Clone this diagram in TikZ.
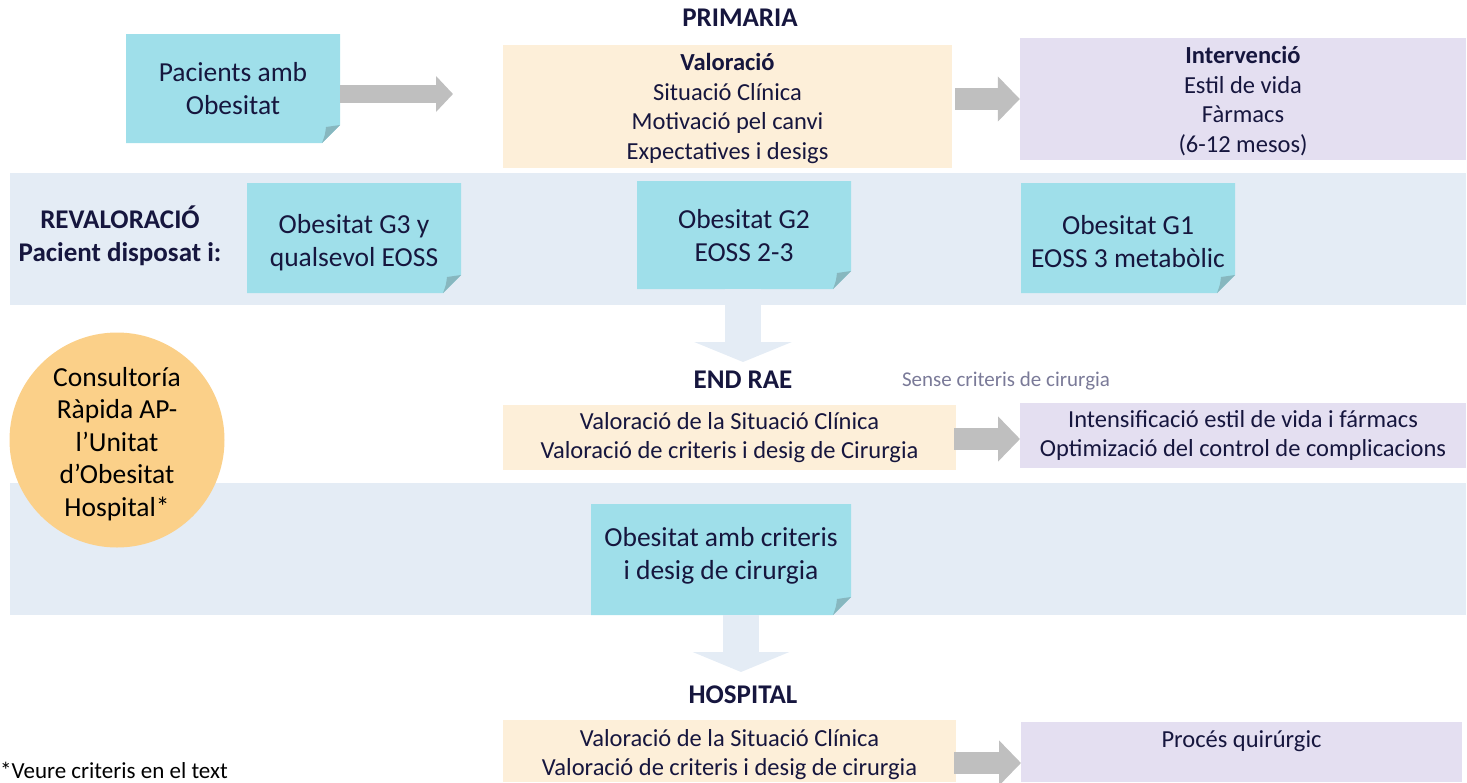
\documentclass[tikz,border=0pt]{standalone}
\usepackage{fontspec}
\setmainfont{Carlito}
\usetikzlibrary{arrows.meta,calc}
\definecolor{stickyc}{RGB}{159,223,234}
\definecolor{foldc}{RGB}{135,183,191}
\definecolor{peach}{RGB}{253,239,217}
\definecolor{lav}{RGB}{228,223,241}
\definecolor{bandc}{RGB}{228,236,245}
\definecolor{arrowgray}{RGB}{191,191,191}
\definecolor{circc}{RGB}{251,208,137}
\definecolor{navy}{RGB}{22,22,62}
\definecolor{softgray}{RGB}{122,122,152}
\tikzset{
  stickytext/.style={inner sep=0pt, align=center, text=navy, font=\fontsize{27.5}{33}\selectfont},
  boxtext/.style={inner sep=0pt, align=center, text=navy, font=\fontsize{24.5}{29.5}\selectfont},
  header/.style={inner sep=0pt, text=navy, font=\bfseries\fontsize{27}{33}\selectfont},
  grayarrow/.style={draw=arrowgray, line width=#1, -{Triangle[length=22pt,width=44pt]}},
  grayarrow/.default=22pt,
  downarrow/.style={draw=bandc, line width=36pt, -{Triangle[length=20pt,width=97pt]}},
}
% sticky note: [text shift], name, x1, y1, x2, y2, text
\newcommand\stickynote[7][0]{%
  \fill[stickyc] (#3,#4) -- (#5,#4) -- (#5,#6-18) -- (#5-18,#6) -- (#3,#6) -- cycle;
  \fill[foldc] (#5,#6-18) -- (#5-18,#6) .. controls (#5-15,#6-8) .. (#5-14,#6-16) -- cycle;
  \node[inner sep=0pt, minimum width={#5-#3}, minimum height={#6-#4}] (#2) at ({(#3+#5)/2},{(#4+#6)/2}) {};
  \node[stickytext] (#2txt) at ([yshift=-#1pt]#2.center) {#7};
}
\begin{document}
\begin{tikzpicture}[x=1pt,y=-1pt]
\useasboundingbox (0,0) rectangle (1467,782);
% bands
\fill[bandc] (10,173) rectangle (1466,305);
\fill[bandc] (10,483) rectangle (1466,615);
% headers
\node[header] (prim) at (740,18) {PRIMARIA};
\node[header, align=center] (reval) at (120,236) {REVALORACIÓ\\Pacient disposat i:};
% row 1
\stickynote{pac}{126}{34}{340}{143}{Pacients amb\\Obesitat}
\node[fill=peach, inner sep=0pt, minimum width=449pt, minimum height=123pt] (val) at (727.5,106.5) {};
\node[boxtext] (valtxt) at ([yshift=-2pt]val.center) {\textbf{Valoració}\\Situació Clínica\\Motivació pel canvi\\Expectatives i desigs};
\node[fill=lav, inner sep=0pt, minimum width=446pt, minimum height=122pt] (int) at (1243,99) {};
\node[boxtext] (inttxt) at ([yshift=-2pt]int.center) {\textbf{Intervenció}\\Estil de vida\\Fàrmacs\\(6-12 mesos)};
\coordinate (a1tip) at (453,94);
\draw[grayarrow=18pt, -{Triangle[length=17pt,width=35pt]}] (pac.east |- a1tip) -- (a1tip);
\draw[grayarrow] ([xshift=3pt]val.east |- int.west) -- (int.west);
% row 2 (revaloracio)
\stickynote[5]{g3}{247}{183}{461}{293}{Obesitat G3 y\\qualsevol EOSS}
\stickynote[1]{g2}{637}{181}{851}{289}{Obesitat G2\\EOSS 2-3}
\stickynote[4]{g1}{1021}{183}{1235}{293}{Obesitat G1\\EOSS 3 metabòlic}
\coordinate (tip1) at (743,362);
\draw[downarrow] (g2.south -| tip1) -- (tip1);
\node[header] (endrae) at (743,380) {END RAE};
% circle
\node[circle, fill=circc, minimum size=215pt, inner sep=0pt, text=black] (cons) at (117,440) {};
\node[inner sep=0pt, align=center, font=\fontsize{27.5}{32.5}\selectfont, text=black] (constxt) at ([yshift=-4pt]cons.center) {Consultoría\\Ràpida AP-\\l’Unitat\\d’Obesitat\\Hospital*};
% END RAE row
\node[inner sep=0pt, text=softgray, font=\fontsize{21}{24}\selectfont] (sense) at (1006,381) {Sense criteris de cirurgia};
\node[fill=peach, inner sep=0pt, minimum width=453pt, minimum height=65pt] (rae) at (729.5,437.5) {};
\node[boxtext] (raetxt) at (rae.center) {Valoració de la Situació Clínica\\Valoració de criteris i desig de Cirurgia};
\node[fill=lav, inner sep=0pt, minimum width=446pt, minimum height=65pt] (int2) at (1243,435.5) {};
\node[boxtext] (int2txt) at (int2.center) {Intensificació estil de vida i fármacs\\Optimizació del control de complicacions};
\coordinate (a3tip) at (1020,439);
\draw[grayarrow] ([xshift=-2pt]rae.east |- a3tip) -- (a3tip);
% criteria sticky
\stickynote[-4]{crit}{591}{504}{851}{615}{Obesitat amb criteris\\i desig de cirurgia}
\coordinate (tip2) at (741,672);
\draw[downarrow, line width=36pt, -{Triangle[length=20pt,width=96pt]}] (crit.south -| tip2) -- (tip2);
\node[header] (hosp) at (743,695) {HOSPITAL};
% hospital row
\node[fill=peach, inner sep=0pt, minimum width=453pt, minimum height=62pt] (hbox) at (729.5,751) {};
\node[boxtext] (hboxtxt) at (729.5,754.5) {Valoració de la Situació Clínica\\Valoració de criteris i desig de cirurgia};
\node[fill=lav, inner sep=0pt, minimum width=441pt, minimum height=60pt] (proc) at (1241.5,752) {};
\node[boxtext, anchor=north] (proctxt) at ([yshift=-9pt]proc.north) {Procés quirúrgic};
\coordinate (a4tip) at (1021,763);
\draw[grayarrow] ([xshift=-2pt]hbox.east |- a4tip) -- (a4tip);
% footnote
\node[inner sep=0pt, anchor=west, text=black, font=\fontsize{23}{26}\selectfont] (foot) at (0,770) {*Veure criteris en el text};
\end{tikzpicture}
\end{document}
